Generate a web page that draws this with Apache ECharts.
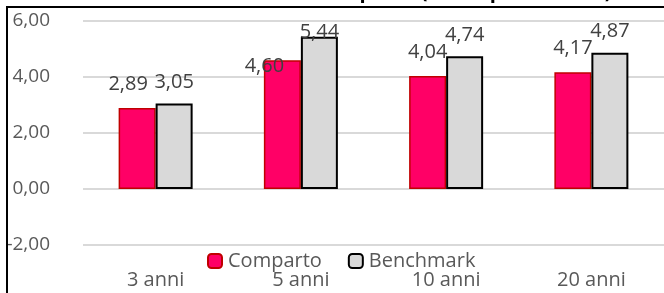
<!DOCTYPE html>
<html><head><meta charset="utf-8">
<script src="https://cdn.jsdelivr.net/npm/echarts@6/dist/echarts.min.js"></script>
<style>html,body{margin:0;padding:0;background:#fff}#c{width:664px;height:293px}</style>
</head><body><div id="c"></div>
<script>
const categories = ['3 anni', '5 anni', '10 anni', '20 anni'];
const comparto = [2.89, 4.60, 4.04, 4.17];
const benchmark = [3.05, 5.44, 4.74, 4.87];
const yTicks = [-2, 0, 2, 4, 6];
const titleText = 'Rendimento medio annuo composto (valori percentuali)';

const fmt = v => v.toFixed(2).replace('.', ',');
const font = '"Open Sans", "Noto Sans", sans-serif';

const chart = echarts.init(document.getElementById('c'), null, {renderer: 'canvas'});
chart.setOption({
  animation: false,
  textStyle: {fontFamily: font},
  grid: {left: 83, right: -3, top: 21, bottom: 48, containLabel: false},
  legend: {
    data: ['Comparto', 'Benchmark'],
    left: 202, top: 246,
    itemWidth: 14, itemHeight: 14, itemGap: 26,
    textStyle: {fontSize: 20, color: '#595959', fontFamily: font, padding: [0, 0, 0, 1]}
  },
  xAxis: {
    type: 'category', data: categories,
    axisLine: {show: false}, axisTick: {show: false},
    axisLabel: {fontSize: 20, color: '#595959', margin: 25, fontFamily: font}
  },
  yAxis: {
    type: 'value', min: yTicks[0], max: yTicks[yTicks.length - 1], interval: 2,
    axisLine: {show: false}, axisTick: {show: false},
    axisLabel: {fontSize: 19, color: '#595959', margin: 33, formatter: fmt, fontFamily: font},
    splitLine: {lineStyle: {color: '#D9D9D9', width: 2}}
  },
  series: [
    {
      name: 'Comparto', type: 'bar', data: comparto.map((v, i) => ({
        value: v,
        label: i === 1 ? {offset: [-18, 30]} : (i === 0 ? {offset: [-9, 0]} : undefined)
      })),
      barWidth: 37, barGap: '0%',
      itemStyle: {color: '#FF0066', borderColor: '#C00000', borderWidth: 1.5},
      label: {show: true, position: 'top', distance: 14, fontSize: 20, color: '#404040', formatter: p => fmt(p.value), fontFamily: font}
    },
    {
      name: 'Benchmark', type: 'bar', data: benchmark.map((v, i) => ({
        value: v,
        label: i === 1 ? {distance: -6} : undefined
      })),
      barWidth: 37,
      itemStyle: {color: '#D9D9D9', borderColor: '#000000', borderWidth: 2},
      label: {show: true, position: 'top', distance: 11, fontSize: 20, color: '#404040', formatter: p => fmt(p.value), fontFamily: font}
    }
  ],
  graphic: [
    {type: 'text', left: 'center', top: -18, style: {text: titleText, font: 'bold 20px ' + font, fill: '#000'}, z: 10},
    {type: 'rect', shape: {x: 7, y: 7, width: 670, height: 300}, style: {fill: 'none', stroke: '#000', lineWidth: 2}, z: 11}
  ]
});
</script>
</body></html>
